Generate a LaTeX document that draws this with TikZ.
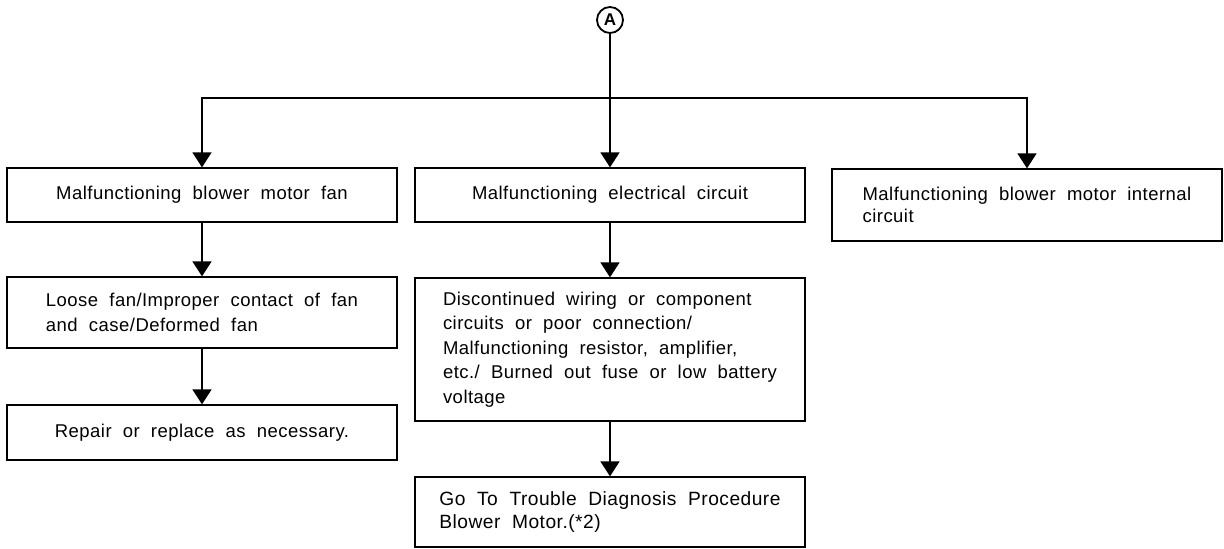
\documentclass[tikz,border=0pt]{standalone}
\usepackage{fontspec}
\setmainfont{Liberation Sans}[LetterSpace=2.5,WordSpace=2]
\usetikzlibrary{arrows.meta,positioning}

\begin{document}
\begin{tikzpicture}[x=1pt, y=-1pt,
    box/.style={draw, line width=1.3pt, minimum width=390pt, inner xsep=0pt, inner ysep=0pt, font=\fontsize{18.5}{24.6}\selectfont},
    arr/.style={-{Triangle[length=15pt,width=19pt]}, line width=1.6pt}
  ]
    \useasboundingbox (0,0) rectangle (1224,549);

    \node[draw, circle, line width=1.8pt, minimum size=26pt, inner sep=0pt, font=\bfseries\fontsize{17}{17}\selectfont] (circA) at (610,20) {A};
    \coordinate (split) at (610,98);

    \node[box, minimum height=54pt, align=center] (mfan) at (202,195) {Malfunctioning blower motor fan};
    \node[box, minimum height=54pt, align=center] (melec) at (610,195) {Malfunctioning electrical circuit};
    \node[box, minimum height=72pt, align=left, font=\fontsize{18.5}{22}\selectfont] (mint) at (1027,205) {Malfunctioning blower motor internal\\circuit};

    \node[box, minimum height=71pt, align=left] (loosefan) at (202,312.5) {Loose fan/Improper contact of fan\\and case/Deformed fan};
    \node[box, minimum height=55pt, align=left] (repair) at (202,432.5) {Repair or replace as necessary.};

    \node[box, minimum height=143pt, align=left] (wiring) at (610,349.5) {Discontinued wiring or component\\circuits or poor connection/\\Malfunctioning resistor, amplifier,\\etc./ Burned out fuse or low battery\\voltage};
    \node[box, minimum height=70pt, align=left, font=\fontsize{19.2}{23.5}\selectfont] (gotodiag) at (610,512) {Go To Trouble Diagnosis Procedure\\Blower Motor.(*2)};

    \draw[arr] (circA) -- (melec);
    \draw[arr] (split) -| (mfan);
    \draw[arr] (split) -| (mint);
    \draw[arr] (mfan) -- (loosefan);
    \draw[arr] (loosefan) -- (repair);
    \draw[arr] (melec) -- (wiring);
    \draw[arr] (wiring) -- (gotodiag);
\end{tikzpicture}
\end{document}
